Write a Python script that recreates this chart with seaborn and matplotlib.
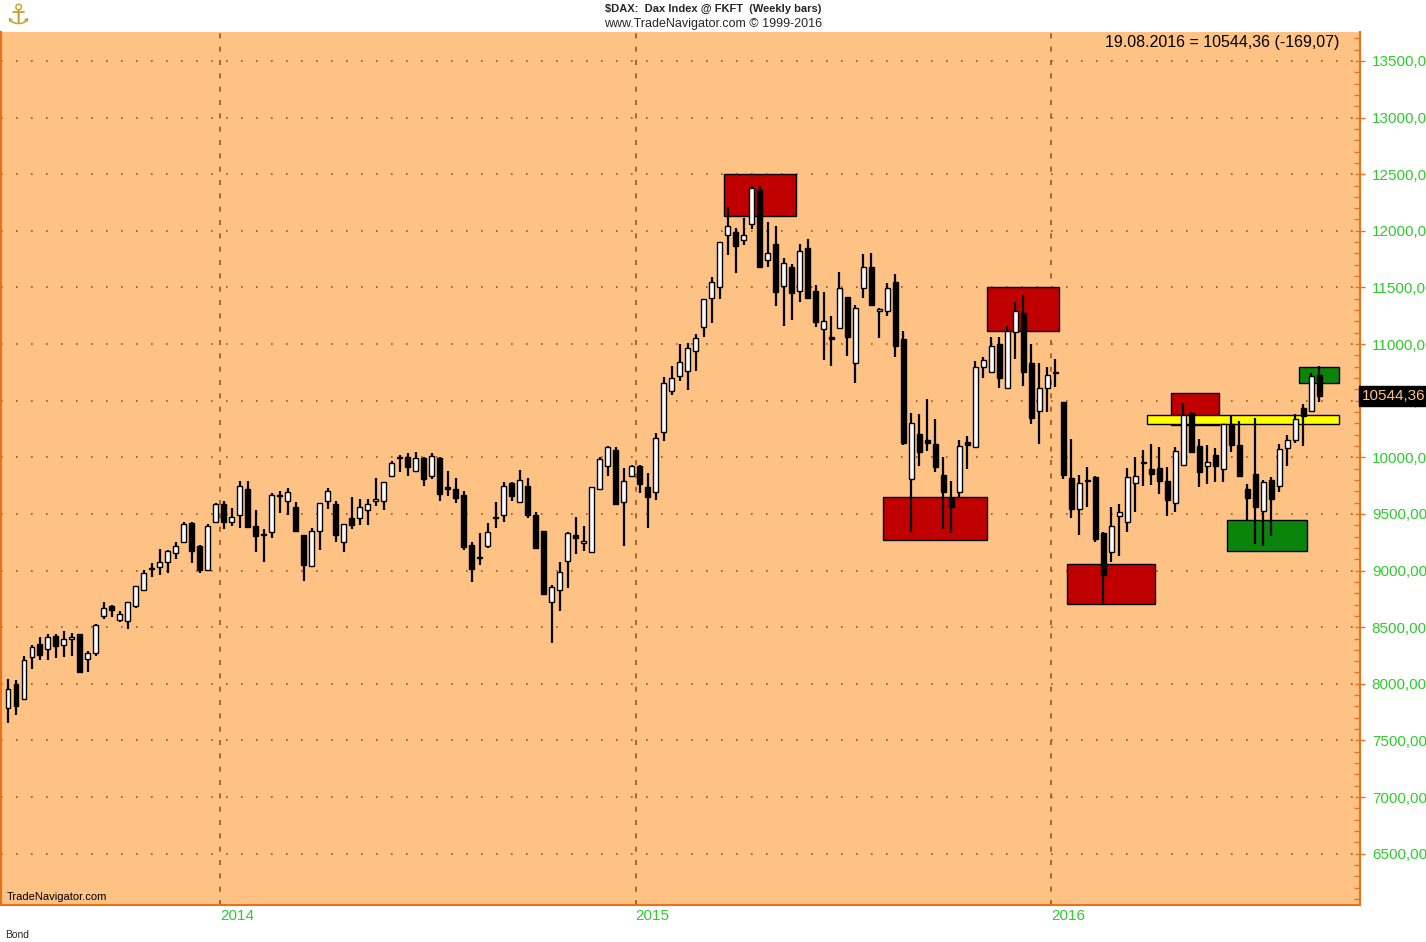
import matplotlib
matplotlib.use('Agg')
import matplotlib.pyplot as plt
import matplotlib.transforms as mtransforms
from matplotlib.patches import Rectangle
from matplotlib.ticker import MultipleLocator, FixedLocator
import numpy as np
import pandas as pd
import seaborn as sns

sns.set_theme(style='white')
plt.rcParams['font.family'] = ['Liberation Sans', 'DejaVu Sans']

# weekly DAX bars, first bar = week ending 28.06.2013
first_week = '2013-06-28'
opens = [7782, 8002, 7864, 8241, 8350, 8311, 8423, 8347, 8400, 8438,
         8223, 8276, 8600, 8685, 8561, 8552, 8685, 8832, 9010, 9032,
         9079, 9156, 9253, 9420, 9220, 9003, 9426, 9587, 9426, 9493,
         9720, 9390, 9318, 9337, 9660, 9617, 9558, 9314, 9043, 9352,
         9617, 9588, 9250, 9464, 9462, 9538, 9612, 9612, 9832, 9990,
         10000, 9882, 9991, 9832, 9991, 9735, 9721, 9668, 9226, 9118,
         9220, 9460, 9491, 9771, 9603, 9750, 9494, 9347, 8719, 8831,
         9081, 9313, 9243, 9160, 9720, 9920, 10064, 9602, 9831, 9926,
         9734, 9696, 10226, 10587, 10719, 10763, 10940, 11152, 11411, 11508,
         11961, 11985, 11920, 12058, 12358, 11740, 11883, 11509, 11682, 11465,
         11847, 11471, 11132, 11059, 11138, 11412, 10829, 11491, 11682, 11288,
         11293, 11544, 11049, 9807, 10205, 10152, 10116, 9843, 9640, 9690,
         10137, 10087, 10793, 10749, 11000, 10608, 11102, 11273, 10837, 10405,
         10608, 10740, 10484, 9813, 9542, 9790, 9822, 9332, 9168, 9485,
         9427, 9774, 9955, 9897, 9903, 9789, 9594, 9933, 10389, 10097,
         9927, 10020, 9897, 10294, 10109, 9720, 9853, 9523, 9800, 9744,
         10082, 10156, 10432, 10406, 10727]
highs = [8041, 8035, 8247, 8341, 8417, 8438, 8441, 8462, 8447, 8444,
         8291, 8532, 8718, 8699, 8640, 8723, 8861, 9008, 9067, 9194,
         9185, 9253, 9426, 9426, 9229, 9412, 9597, 9617, 9549, 9788,
         9793, 9537, 9367, 9682, 9699, 9726, 9602, 9314, 9373, 9596,
         9726, 9617, 9412, 9647, 9632, 9632, 9818, 9785, 9971, 10021,
         10038, 10050, 10000, 10038, 10000, 9877, 9818, 9706, 9250, 9329,
         9420, 9603, 9779, 9785, 9891, 9815, 9520, 9347, 8876, 9072,
         9343, 9470, 9396, 9734, 10000, 10102, 10087, 9905, 9932, 9932,
         9861, 10214, 10706, 10807, 11000, 11013, 11087, 11402, 11593, 11905,
         12214, 12029, 12117, 12397, 12397, 12082, 12044, 11756, 11706, 11883,
         11927, 11521, 11462, 11244, 11638, 11418, 11344, 11794, 11803, 11318,
         11540, 11620, 11117, 10387, 10381, 10514, 10337, 9999, 9793, 10152,
         10190, 10852, 10890, 11058, 11058, 11161, 11367, 11432, 11000, 10831,
         10799, 10867, 10484, 10166, 9843, 9910, 9831, 9338, 9559, 9588,
         9903, 10000, 10065, 10118, 10095, 9912, 10095, 10480, 10398, 10162,
         10109, 10079, 10294, 10374, 10324, 9764, 10344, 9803, 9823, 10118,
         10197, 10382, 10471, 10741, 10803]
lows = [7658, 7723, 7855, 8135, 8211, 8211, 8232, 8241, 8247, 8100,
        8100, 8247, 8576, 8593, 8543, 8485, 8670, 8832, 8944, 8958,
        8979, 9106, 9253, 9067, 8979, 9003, 9420, 9367, 9396, 9376,
        9376, 9167, 9073, 9284, 9505, 9493, 9343, 8910, 9043, 9184,
        9543, 9256, 9167, 9367, 9406, 9406, 9573, 9538, 9824, 9868,
        9832, 9868, 9750, 9809, 9617, 9656, 9597, 9182, 8902, 9050,
        9197, 9373, 9426, 9618, 9597, 9462, 9197, 8780, 8361, 8645,
        8843, 9146, 9169, 9160, 9714, 9837, 9581, 9219, 9823, 9684,
        9375, 9622, 10146, 10551, 10675, 10593, 10763, 11064, 11190, 11402,
        11787, 11623, 11876, 12020, 11676, 11676, 11332, 11162, 11214, 11373,
        11397, 11153, 10861, 10802, 11138, 10897, 10652, 11406, 11332, 11050,
        11249, 10890, 10110, 9336, 9925, 10057, 9866, 9366, 9330, 9651,
        9896, 10078, 10696, 10749, 10608, 10608, 10867, 10631, 10293, 10116,
        10402, 10625, 9807, 9460, 9313, 9563, 9248, 8705, 9079, 9126,
        9338, 9521, 9750, 9756, 9677, 9485, 9520, 9921, 10039, 9736,
        9765, 9779, 9779, 10044, 9823, 9435, 9235, 9214, 9302, 9691,
        9926, 10123, 10097, 10406, 10491]
closes = [7958, 7805, 8211, 8329, 8253, 8409, 8335, 8394, 8414, 8105,
          8276, 8520, 8673, 8655, 8617, 8723, 8861, 8979, 9020, 9079,
          9170, 9220, 9412, 9176, 9003, 9397, 9591, 9431, 9476, 9743,
          9381, 9308, 9310, 9667, 9665, 9690, 9352, 9052, 9352, 9596,
          9699, 9314, 9412, 9406, 9559, 9588, 9632, 9779, 9950, 9998,
          9912, 9991, 9809, 10015, 9676, 9721, 9638, 9206, 9014, 9110,
          9338, 9466, 9750, 9656, 9803, 9494, 9197, 8794, 8851, 8990,
          9328, 9290, 9261, 9734, 9985, 10087, 9587, 9787, 9920, 9764,
          9646, 10170, 10653, 10696, 10843, 10963, 11052, 11402, 11552, 11905,
          12038, 11867, 11964, 12376, 11682, 11808, 11456, 11715, 11447, 11818,
          11406, 11197, 11200, 11044, 11491, 11059, 11318, 11677, 11344, 11309,
          11491, 10984, 10122, 10299, 10043, 10122, 9916, 9690, 9557, 10096,
          10110, 10793, 10858, 10985, 10699, 11117, 11293, 10749, 10343, 10608,
          10728, 10743, 9843, 9542, 9769, 9798, 9283, 8962, 9391, 9515,
          9824, 9833, 9951, 9853, 9794, 9627, 10053, 10374, 10045, 9874,
          9956, 9920, 10294, 10109, 9838, 9638, 9558, 9779, 9632, 10073,
          10153, 10338, 10368, 10715, 10544.36]

# marked zones: first week, last week, lower price, upper price
red_from = ['2015-03-20', '2015-08-07', '2015-11-06', '2016-01-15', '2016-04-15']
red_to = ['2015-05-15', '2015-10-30', '2016-01-01', '2016-03-25', '2016-05-20']
red_low = [12132, 9271, 11117, 8706, 10287]
red_high = [12500, 9651, 11505, 9062, 10569]
yellow_from, yellow_to, yellow_low, yellow_high = '2016-03-25', '2016-09-02', 10295, 10375
green_from = ['2016-06-03', '2016-08-05']
green_to = ['2016-08-05', '2016-09-02']
green_low = [9174, 10657]
green_high = [9448, 10798]

last_change = -169.07

df = pd.DataFrame({'open': opens, 'high': highs, 'low': lows, 'close': closes})
df['date'] = pd.date_range(first_week, periods=len(df), freq='7D')
df['x'] = np.arange(len(df))
t0 = df['date'].iloc[0]


def wk(d):
    return (pd.Timestamp(d) - t0).days / 7


fig = plt.figure(figsize=(14.26, 9.42), dpi=100)
fig.patch.set_facecolor('white')
ax = fig.add_axes([0.0007, 0.0393, 0.953, 0.9268])
ax.set_facecolor('#FFC285')

grid_col = '#A0521E'
orange = '#E8721C'
green_txt = '#2FCB2F'

# zones
def zone(a, b, lo, hi, col, z):
    x0 = wk(a) - 0.5
    x1 = wk(b) + 0.5
    ax.add_patch(Rectangle((x0, lo), x1 - x0, hi - lo, facecolor=col,
                           edgecolor='black', lw=1, zorder=z))

for a, b, lo, hi in zip(red_from, red_to, red_low, red_high):
    zone(a, b, lo, hi, '#C00000', 1.5)
zone(yellow_from, yellow_to, yellow_low, yellow_high, '#FFFF00', 1.6)
for a, b, lo, hi in zip(green_from, green_to, green_low, green_high):
    zone(a, b, lo, hi, '#0A840A', 1.5)

# candles
up = df['close'] >= df['open']
body_lo = np.minimum(df['open'], df['close'])
body_h = np.maximum((df['close'] - df['open']).abs(), 10)
ax.vlines(df['x'], df['low'], df['high'], color='black', lw=1.6, zorder=3)
ax.bar(df['x'], body_h, bottom=body_lo, width=0.62,
       color=np.where(up, 'white', 'black'), edgecolor='black', lw=1, zorder=4)

ax.set_xlim(-0.875, 169.1)
ax.set_ylim(6047, 13756)

# year ticks at the year boundaries
years = df['date'].dt.year
year_pos = [df['x'][years == y].iloc[0] - 0.5 for y in sorted(years.unique())[1:]]
year_lab = [str(y) for y in sorted(years.unique())[1:]]
ax.set_xticks(year_pos)
ax.set_xticklabels(year_lab, color=green_txt, fontsize=11, ha='left')
off = mtransforms.ScaledTranslation(3 / 100, 0, fig.dpi_scale_trans)
for lab in ax.get_xticklabels():
    lab.set_transform(lab.get_transform() + off)
ax.tick_params(axis='x', length=0, pad=3)

ax.yaxis.tick_right()
ax.yaxis.set_major_locator(FixedLocator(np.arange(6500, 14000, 500)))
ax.yaxis.set_minor_locator(MultipleLocator(100))
ax.set_yticklabels([f'{v:.2f}'.replace('.', ',') for v in np.arange(6500, 14000, 500)],
                   color=green_txt, fontsize=11)
ax.tick_params(axis='y', which='major', direction='inout', length=7, width=1,
               color=orange, pad=5, right=True)
ax.tick_params(axis='y', which='minor', direction='in', length=4, width=1,
               color=orange, right=True)

ax.yaxis.grid(True, linestyle=(0, (1, 8)), color=grid_col, lw=1.2)
ax.xaxis.grid(True, linestyle=(0, (3, 5)), color=grid_col, lw=1.2)
for s in ['left', 'right', 'bottom']:
    ax.spines[s].set_color(orange)
    ax.spines[s].set_linewidth(1.5)
ax.spines['top'].set_visible(False)

# texts
last = df.iloc[-1]
prev = last['close'] - last_change
info = (f"{last['date']:%d.%m.%Y} = {last['close']:.2f} ({last_change:.2f})").replace('.', ',')
info = f"{last['date']:%d.%m.%Y}" + info[10:]
ax.text(0.985, 0.997, info, transform=ax.transAxes, ha='right', va='top',
        fontsize=11.5, color='black')
bt = mtransforms.blended_transform_factory(ax.transAxes, ax.transData)
ax.text(1.0015, last['close'], f"{last['close']:.2f}".replace('.', ','), transform=bt,
        ha='left', va='center', fontsize=11, color='#FFC285', zorder=6,
        bbox=dict(boxstyle='square,pad=0.2', facecolor='black', edgecolor='black'))
ax.text(0.004, 0.003, 'TradeNavigator.com', transform=ax.transAxes, ha='left',
        va='bottom', fontsize=8, color='black')

fig.text(0.5, 1 - 9 / 942, '$DAX:  Dax Index @ FKFT  (Weekly bars)', ha='center',
         va='center', fontsize=8, fontweight='bold', parse_math=False)
fig.text(0.5, 1 - 24 / 942, 'www.TradeNavigator.com \u00a9 1999-2016', ha='center',
         va='center', fontsize=9)
fig.text(18 / 1426, 1 - 16 / 942, '\u2693', ha='center', va='center', fontsize=20,
         color='#C9A227', family=['DejaVu Sans'])
fig.text(5 / 1426, 1 - 935 / 942, 'Bond', ha='left', va='center', fontsize=7.5)

fig.savefig('out.png', dpi=100)
